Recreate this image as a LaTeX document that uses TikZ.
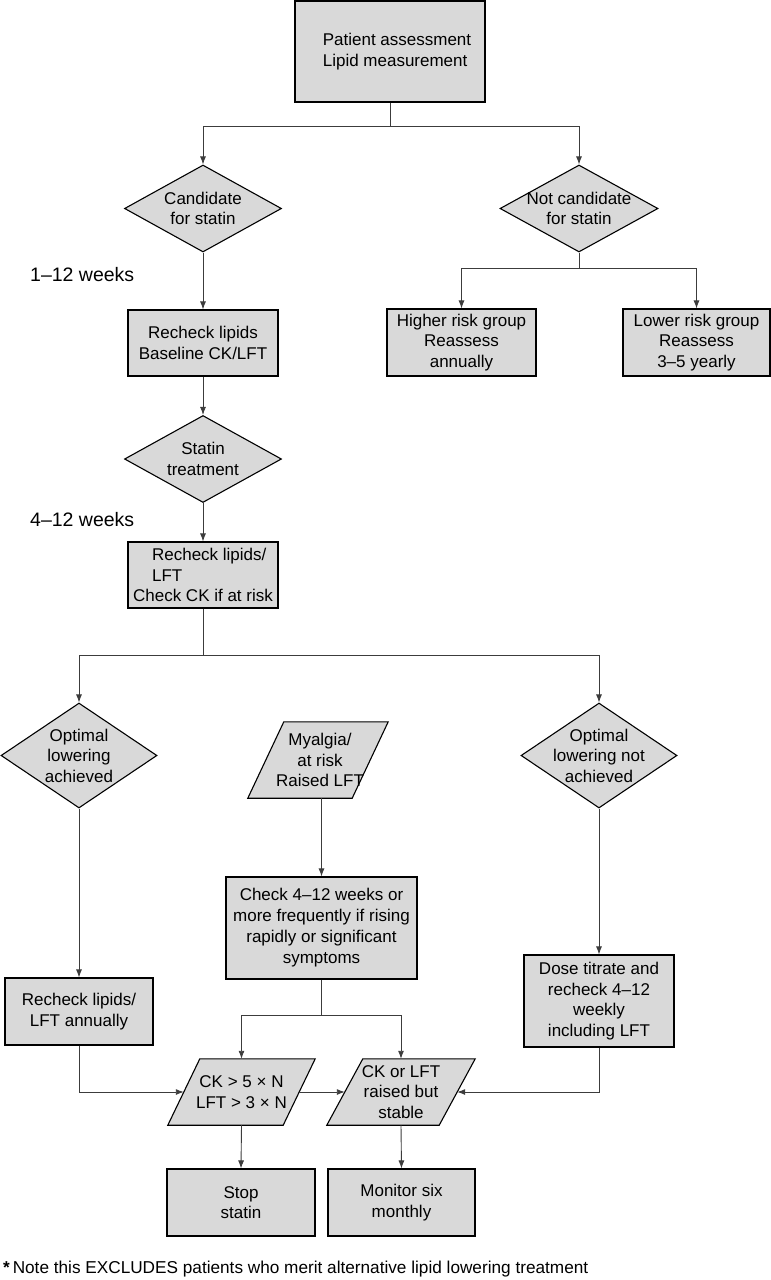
\documentclass[tikz,border=0pt]{standalone}
\usepackage{fontspec}
\setmainfont{Liberation Sans}
\usetikzlibrary{arrows.meta,shapes.geometric,calc,backgrounds}
\definecolor{boxfill}{RGB}{217,217,217}
\definecolor{linec}{RGB}{60,60,60}
\begin{document}
\begin{tikzpicture}[x=1pt,y=-1pt,
  font=\fontsize{17}{20.5}\selectfont,
  rbox/.style={rectangle, draw=black, line width=1.1pt, fill=boxfill, inner sep=0pt, align=center},
  dia/.style={diamond, draw=black, line width=1.1pt, fill=boxfill, inner sep=0pt},
  para/.style={rectangle, draw=none, inner sep=0pt},
  pshape/.style={draw=black, line width=1.1pt, fill=boxfill, line join=miter},
  lbl/.style={align=center, inner sep=0pt},
  wk/.style={anchor=west, inner sep=0pt, font=\fontsize{19.5}{22}\selectfont},
  conn/.style={draw=linec, line width=0.9pt},
  arr/.style={conn, -{Latex[length=8pt,width=6pt]}}]
\useasboundingbox (0,0) rectangle (771,1280);

% boxes
\node[rbox, minimum width=190pt, minimum height=101pt,
  label={[lbl,align=left,xshift=7pt]center:Patient assessment\\Lipid measurement}] (top) at (390,51.5) {};
\node[dia, minimum width=157pt, minimum height=87pt,
  label={[lbl]center:Candidate\\for statin}] (cand) at (203,208.5) {};
\node[dia, minimum width=158pt, minimum height=87pt,
  label={[lbl]center:Not candidate\\for statin}] (nc) at (579,208.5) {};
\node[rbox, minimum width=150pt, minimum height=66pt] (rl1) at (203,343) {Recheck lipids\\Baseline CK/LFT};
\node[rbox, minimum width=149pt, minimum height=67pt] (hi) at (461.5,342.5) {Higher risk group\\Reassess\\annually};
\node[rbox, minimum width=147pt, minimum height=67pt] (lo) at (696.5,342.5) {Lower risk group\\Reassess\\3–5 yearly};
\node[dia, minimum width=157pt, minimum height=87pt,
  label={[lbl]center:Statin\\treatment}] (stat) at (203,459) {};
\node[rbox, minimum width=150pt, minimum height=66pt, align=left] (rl2) at (203,575)
  {\hspace*{19pt}Recheck lipids/\\\hspace*{19pt}LFT\\Check CK if at risk};
\node[dia, minimum width=156pt, minimum height=105pt,
  label={[lbl]center:Optimal\\lowering\\achieved}] (opt) at (79,755.5) {};
\node[dia, minimum width=156pt, minimum height=105pt,
  label={[lbl]center:Optimal\\lowering not\\achieved}] (nopt) at (599,755.5) {};
\node[para, minimum width=140pt, minimum height=76pt,
  label={[lbl,xshift=2pt]center:Myalgia/\\at risk\\Raised LFT}] (my) at (318,760) {};
\node[rbox, minimum width=191pt, minimum height=102pt, font=\fontsize{17}{21}\selectfont] (chk) at (321.5,928)
  {Check 4–12 weeks or\\more frequently if rising\\rapidly or significant\\symptoms};
\node[rbox, minimum width=148pt, minimum height=67pt] (ann) at (79,1011.5) {Recheck lipids/\\LFT annually};
\node[rbox, minimum width=150pt, minimum height=92pt] (dose) at (599,1001)
  {Dose titrate and\\recheck 4–12\\weekly\\including LFT};
\node[para, minimum width=147pt, minimum height=66pt,
  label={[lbl]center:CK > 5 × N\\LFT > 3 × N}] (ck) at (241.5,1092) {};
\node[para, minimum width=148pt, minimum height=66pt,
  label={[lbl]center:CK or LFT\\raised but\\stable}] (st) at (401,1092) {};
\node[rbox, minimum width=148pt, minimum height=67pt] (stop) at (241,1202.5) {Stop\\statin};
\node[rbox, minimum width=147pt, minimum height=67pt] (mon) at (401.5,1202.5) {Monitor six\\monthly};

% parallelogram outlines
\begin{scope}[on background layer]
  \foreach \n/\s in {my/36, ck/32, st/36}
    \draw[pshape] ($(\n.north west)+(\s,0)$) -- (\n.north east) -- ($(\n.south east)-(\s,0)$) -- (\n.south west) -- cycle;
\end{scope}

% labels
\node[wk] (w1) at (30,275) {1–12 weeks};
\node[wk] (w2) at (30,520) {4–12 weeks};
\node[anchor=west, inner sep=0pt, font=\fontsize{17.2}{20}\selectfont] (fn) at (3,1269)
  {\textbf{*}\,Note this EXCLUDES patients who merit alternative lipid lowering treatment};

% junction points
\coordinate (j1) at ($(top.south)+(0,23.5)$);
\coordinate (j2) at ($(nc.south)+(0,16)$);
\coordinate (j3) at ($(rl2.south)+(0,47)$);
\coordinate (j4) at ($(chk.south)+(0,36)$);
\coordinate (ckL) at ($(ck.west)+(16,0)$);
\coordinate (ckR) at ($(ck.east)-(16,0)$);
\coordinate (stL) at ($(st.west)+(18,0)$);
\coordinate (stR) at ($(st.east)-(18,0)$);

% connectors
\draw[conn] (top.south) -- (j1);
\draw[arr] (j1) -| (cand.north);
\draw[arr] (j1) -| (nc.north);
\draw[arr] (cand.south) -- (rl1.north);
\draw[conn] (nc.south) -- (j2);
\draw[arr] (j2) -| (hi.north);
\draw[arr] (j2) -| (lo.north);
\draw[arr] (rl1.south) -- (stat.north);
\draw[arr] (stat.south) -- (rl2.north);
\draw[conn] (rl2.south) -- (j3);
\draw[arr] (j3) -| (opt.north);
\draw[arr] (j3) -| (nopt.north);
\draw[arr] (my.south -| chk.north) -- (chk.north);
\draw[arr] (opt.south) -- (ann.north);
\draw[arr] (nopt.south) -- (dose.north);
\draw[conn] (chk.south) -- (j4);
\draw[arr] (j4) -| (ck.north);
\draw[arr] (j4) -| (st.north);
\draw[arr] (ann.south) |- (ckL);
\draw[arr] (ckR) -- (stL);
\draw[arr] (dose.south) |- (stR);
\draw[arr] (ck.south) -- (stop.north);
\draw[arr] (st.south) -- (mon.north);
\end{tikzpicture}
\end{document}
